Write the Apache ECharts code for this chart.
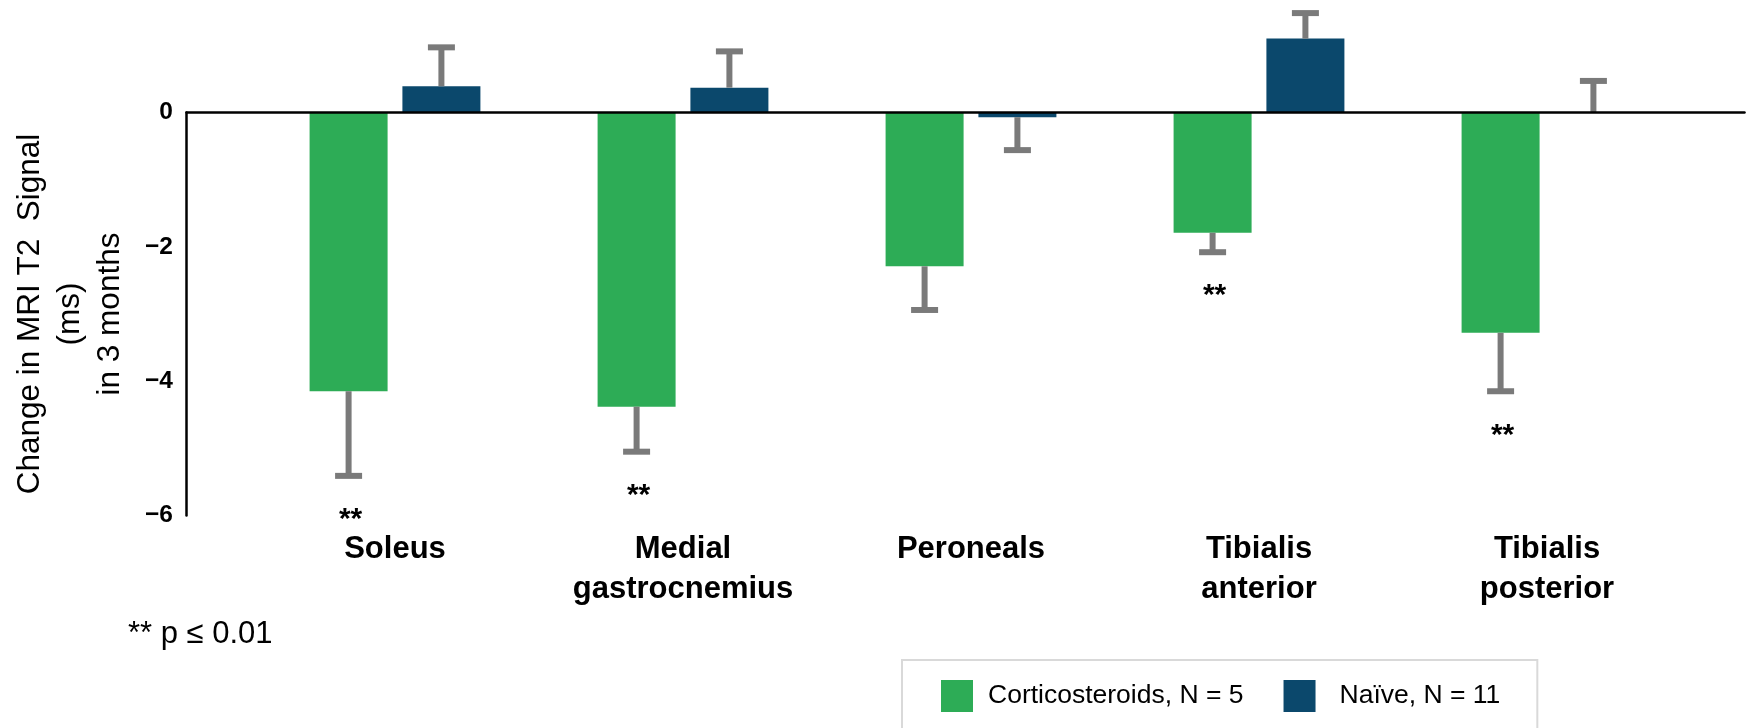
<!DOCTYPE html>
<html>
<head>
<meta charset="utf-8">
<title>Change in MRI T2 signal</title>
<script src="https://cdn.jsdelivr.net/npm/echarts@6/dist/echarts.min.js"></script>
<style>
  html, body { margin: 0; padding: 0; background: #fff; }
  #chart { width: 1750px; height: 728px; }
</style>
</head>
<body>
<div id="chart"></div>
<script>
// Muscle groups along the x axis
const categories = ['Soleus', 'Medial\ngastrocnemius', 'Peroneals', 'Tibialis\nanterior', 'Tibialis\nposterior'];

// Mean change in T2 signal (ms) after 3 months, with one-sided error
const corticoMean = [-4.15, -4.38, -2.29, -1.79, -3.28];
const corticoErr  = [1.26, 0.67, 0.65, 0.29, 0.87];
const naiveMean   = [0.39, 0.37, -0.07, 1.10, 0];
const naiveErr    = [0.58, 0.54, 0.49, 0.38, 0.47];

// Significance markers (p <= 0.01) for the corticosteroid group
const corticoSig  = [true, true, false, true, true];

const seriesNames = ['Corticosteroids, N = 5', 'Naïve, N = 11'];
const yMin = -6, yMax = 0, yStep = 2;
const noteText = '** p \u2264 0.01';
const yTitle = 'Change in MRI T2  Signal\n(ms)\nin 3 months';

const GREEN = '#2dac56';
const NAVY = '#0b486c';
const GREY = '#7a7a7a';
const FONT = '"Liberation Sans", Arial, Helvetica, sans-serif';

const BAR_W = 78;
const BAR_GAP = 0.19;
const SHIFT = BAR_W * (1 + BAR_GAP) / 2;

function errorBarSeries(means, errs, sig, group) {
  const data = means.map((m, i) => [i, m, errs[i], sig ? (sig[i] ? 1 : 0) : 0]);
  return {
    type: 'custom',
    xAxisIndex: 0,
    yAxisIndex: 0,
    clip: false,
    silent: true,
    z: 3,
    encode: { x: 0, y: 1 },
    data: data,
    renderItem: function (params, api) {
      const cat = api.value(0);
      const val = api.value(1);
      const err = api.value(2);
      const star = api.value(3);
      const dir = val < 0 ? -1 : 1;
      const base = api.coord([cat, val]);
      const end = api.coord([cat, val + dir * err]);
      const x = base[0] + (group === 0 ? -SHIFT : SHIFT);
      const children = [
        { type: 'line', shape: { x1: x, y1: base[1], x2: x, y2: end[1] },
          style: { stroke: GREY, lineWidth: 6 } },
        { type: 'line', shape: { x1: x - 13.5, y1: end[1], x2: x + 13.5, y2: end[1] },
          style: { stroke: GREY, lineWidth: 6 } }
      ];
      if (star) {
        children.push({
          type: 'text',
          style: {
            text: '**', x: x + 2, y: end[1] + 44,
            align: 'center', verticalAlign: 'middle',
            fontSize: 30, fontWeight: 'bold', fontFamily: FONT, fill: '#000'
          }
        });
      }
      return { type: 'group', children: children };
    }
  };
}

const chart = echarts.init(document.getElementById('chart'), null, { renderer: 'canvas' });

chart.setOption({
  backgroundColor: '#fff',
  animation: false,
  textStyle: { fontFamily: FONT },
  title: {
    text: noteText,
    left: 128,
    top: 619,
    padding: 0,
    textStyle: { fontSize: 31, fontWeight: 'normal', color: '#000', fontFamily: FONT }
  },
  legend: {
    data: seriesNames,
    left: 902,
    top: 660,
    orient: 'horizontal',
    icon: 'rect',
    itemWidth: 32,
    itemHeight: 32,
    itemGap: 40,
    padding: [20, 37, 40, 39],
    borderColor: '#d9d9d9',
    borderWidth: 2,
    selectedMode: false,
    formatter: function (name) {
      return name === seriesNames[0] ? '{c|' + name + '}' : '{n|' + name + '}';
    },
    textStyle: {
      fontSize: 26.5, color: '#000', fontFamily: FONT,
      rich: {
        c: { fontSize: 26.5, color: '#000', fontFamily: FONT, padding: [0, 0, 0, 10] },
        n: { fontSize: 26.5, color: '#000', fontFamily: FONT, padding: [0, 0, 0, 19] }
      }
    }
  },
  grid: [
    { left: 251, right: 59, top: 112.5, bottom: 212.5 },
    { left: 186.5, right: 5.5, top: 112.5, bottom: 212.5 }
  ],
  xAxis: [
    {
      type: 'category',
      gridIndex: 0,
      data: categories,
      axisLine: { show: false, onZero: false },
      axisTick: { show: false },
      splitLine: { show: false },
      axisLabel: {
        interval: 0,
        margin: 14,
        fontSize: 31,
        lineHeight: 40,
        fontWeight: 'bold',
        color: '#000',
        fontFamily: FONT
      }
    },
    {
      type: 'value',
      gridIndex: 1,
      min: 0,
      max: 1,
      position: 'top',
      z: 6,
      axisLine: { show: true, onZero: false, lineStyle: { color: '#000', width: 2.5 } },
      axisTick: { show: false },
      axisLabel: { show: false },
      splitLine: { show: false }
    }
  ],
  yAxis: [
    {
      type: 'value',
      gridIndex: 0,
      min: yMin,
      max: yMax,
      interval: yStep,
      offset: 64.5,
      name: yTitle,
      nameLocation: 'middle',
      nameRotate: 90,
      nameGap: 56,
      nameTextStyle: {
        fontSize: 31.5, lineHeight: 40, color: '#000', fontFamily: FONT,
        align: 'center'
      },
      axisLine: { show: true, onZero: false, lineStyle: { color: '#000', width: 2.5 } },
      axisTick: { show: false },
      splitLine: { show: false },
      axisLabel: {
        margin: 13.5,
        fontSize: 24.5,
        fontWeight: 'bold',
        color: '#000',
        fontFamily: FONT,
        formatter: function (v) { return String(v).replace('-', '\u2212'); }
      }
    },
    {
      type: 'value',
      gridIndex: 1,
      min: yMin,
      max: yMax,
      show: false
    }
  ],
  series: [
    {
      name: seriesNames[0],
      type: 'bar',
      xAxisIndex: 0,
      yAxisIndex: 0,
      data: corticoMean,
      barWidth: BAR_W,
      barGap: (BAR_GAP * 100) + '%',
      clip: false,
      itemStyle: { color: GREEN }
    },
    {
      name: seriesNames[1],
      type: 'bar',
      xAxisIndex: 0,
      yAxisIndex: 0,
      data: naiveMean,
      barWidth: BAR_W,
      barGap: (BAR_GAP * 100) + '%',
      clip: false,
      itemStyle: { color: NAVY }
    },
    errorBarSeries(corticoMean, corticoErr, corticoSig, 0),
    errorBarSeries(naiveMean, naiveErr, null, 1)
  ]
});
</script>
</body>
</html>
